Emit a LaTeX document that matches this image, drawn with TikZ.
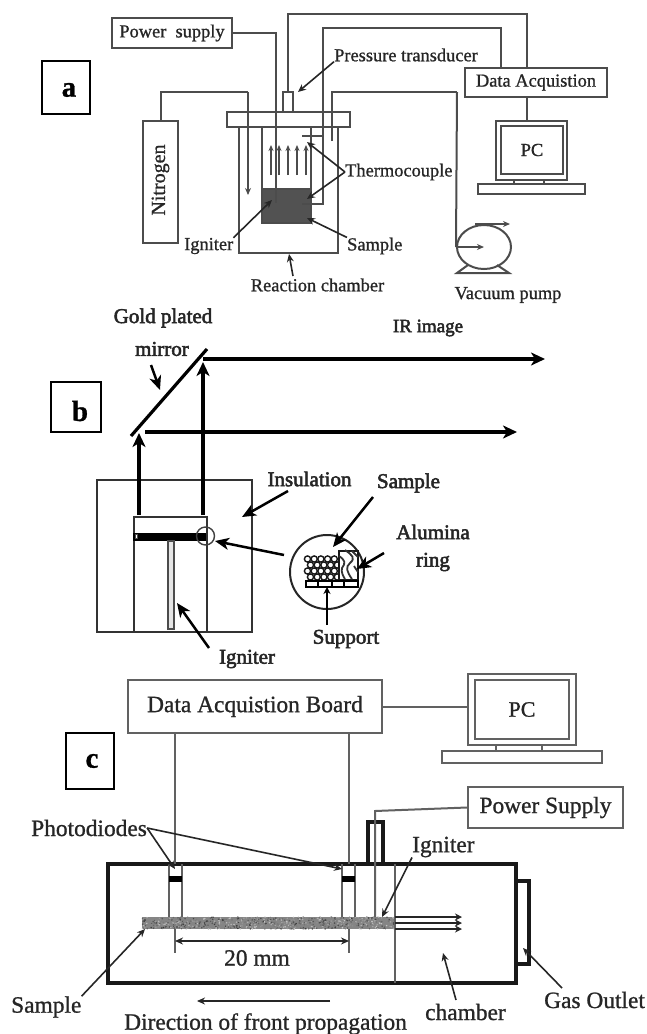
\documentclass[tikz,border=0pt]{standalone}
\usepackage{fontspec}
\setmainfont[FakeBold=1]{Liberation Serif}
\newfontfamily\fB[FakeBold=2.5]{Liberation Serif}
\usetikzlibrary{arrows.meta,calc,shapes.geometric}
\newcommand{\fsz}[1]{\fontsize{#1}{#1}\selectfont}
\definecolor{lineA}{gray}{0.3}
\definecolor{lineC}{gray}{0.38}
\tikzset{
  txtA/.style={inner sep=0pt,font=\fsz{18.4},text=black!85},
  txtB/.style={inner sep=0pt,font=\fB\fsz{21},text=black!85},
  txtC/.style={inner sep=0pt,font=\fsz{23.4},text=black!85},
  tag/.style={draw=black,line width=2pt,inner sep=0pt},
  tagtxt/.style={inner sep=0pt,font=\bfseries\fsz{29},text=black},
  boxA/.style={draw=lineA,line width=2pt,inner sep=0pt,fill=white},
  boxC/.style={draw=lineC,line width=2pt,inner sep=0pt,fill=white},
  wireA/.style={draw=lineA,line width=2pt},
  wireC/.style={draw=lineC,line width=2pt},
  ptrA/.style={draw=black!85,line width=1.6pt,-{Stealth[length=8pt,width=7pt]}},
  ptrB/.style={draw=black,line width=2.5pt,-{Stealth[length=14pt,width=12pt,inset=4pt]}},
  ptrC/.style={draw=black!85,line width=1.6pt,-{Stealth[length=8pt,width=7pt]}},
  beam/.style={draw=black,line width=3.1pt,-{Stealth[length=14pt,width=13pt,inset=4pt]}},
}
\begin{document}
\begin{tikzpicture}[x=1pt,y=-1pt]
\useasboundingbox (0,0) rectangle (647,1034);
% ---------- panel a ----------
\node[tag,minimum width=48,minimum height=53] (tagA) at (66,87.5) {};
\node[tagtxt] (tagAt) at (69,90) {a};
\node[boxA,minimum width=120,minimum height=30,txtA] (psA) at (172,33) {Power\ \ supply};
\node[boxA,minimum width=142,minimum height=29,txtA] (daqA) at (536,82.5) {Data Acquistion};
\node[boxA,minimum width=35,minimum height=122] (n2) at (160.5,182) {};
\node[inner sep=0pt,font=\fsz{20},text=black!85,rotate=90] (n2t) at (160.5,180) {Nitrogen};
% chamber and crucible
\draw[wireA] (239,127) -- (239,253) -- (338,253) -- (338,127);
\draw[wireA] (262,127) -- (262,189);
\draw[wireA] (311,127) -- (311,189);
\node[draw=lineA,line width=2pt,fill=black!68,inner sep=0pt,minimum width=49,minimum height=34] (sampA) at (286.5,206) {};
\foreach \x in {271,279,288,297,306}
  \draw[draw=lineA,line width=1.6pt,-{Stealth[length=6pt,width=5pt]}] (\x,175) -- (\x,145);
\coordinate (n2end) at (248,195);
\coordinate (n2top) at (248,92);
\coordinate (ignTop) at (276,203);
\coordinate (v1) at (527,14);
\coordinate (j1) at (527,68);
\coordinate (v2) at (323,28);
\coordinate (v2b) at (501,28);
\coordinate (j2) at (501,68);
\coordinate (tcL) at (302,204);
\coordinate (tcLc) at (323,204);
\coordinate (tcU) at (302,136);
\coordinate (tcUr) at (323,136);
\coordinate (vacS) at (332,141);
\coordinate (vacT) at (332,92);
\coordinate (vacC) at (457,92);
\node[boxA,minimum width=123,minimum height=15] (flange) at (288.5,119.5) {};
\node[boxA,minimum width=10,minimum height=20] (xd) at (288,102) {};
\draw[wireA] (n2.north) |- (n2top);
\draw[draw=lineA,line width=2pt,-{Stealth[length=7pt,width=6pt]}] (n2top) -- (n2end);
\draw[wireA] (psA.east) -| (ignTop);
\draw[wireA] (tcL) -- (tcLc) -- (v2) -- (v2b) -- (j2);
\draw[wireA] (tcU) -- (tcUr);
\draw[wireA] (xd.north) |- (v1) -- (j1);
\draw[wireA] (vacS) -- (vacT) -- (vacC);
% PC a
\node[boxA,minimum width=71,minimum height=59] (monA) at (531.5,150.5) {};
\node[boxA,minimum width=62,minimum height=48,txtA] (scrA) at (532,150) {PC};
\draw[wireA] (daqA.south -| j1) -- (monA.north -| j1);
\node[boxA,minimum width=107,minimum height=10] (kbA) at (531.5,189) {};
\draw[wireA] (514,180) -- (514,184);
\draw[wireA] (544,180) -- (544,184);
% pump
\node[draw=lineA,line width=2pt,ellipse,inner sep=0pt,minimum width=54,minimum height=44] (pump) at (484,247) {};
\draw[wireA] (vacC) -- (pump.west);
\draw[draw=lineA,line width=1.6pt,-{Stealth[length=7pt,width=6pt]}] (pump.west) -- (pump.center);
\draw[draw=lineA,line width=1.6pt,-{Stealth[length=7pt,width=6pt]}] (475,224) -- (510,224);
\draw[wireA] (468,265) -- (457,273) -- (509,273) -- (497,265);
% labels a
\node[txtA,anchor=west] (lPT) at (334,55) {Pressure transducer};
\coordinate (xdT) at (298,92);
\draw[ptrA] (lPT.south west) -- (xdT);
\node[txtA,anchor=west] (lTC) at (345,172) {Thermocouple};
\coordinate (tcA) at (307,142);
\coordinate (tcB) at (307,199);
\draw[ptrA] (lTC.west) -- (tcA);
\draw[ptrA] (lTC.west) -- (tcB);
\node[txtA,anchor=west] (lIgA) at (184,246) {Igniter};
\coordinate (igA) at (272,200);
\draw[ptrA] (lIgA.north east) -- (igA);
\node[txtA,anchor=west] (lSaA) at (347,246) {Sample};
\coordinate (saA) at (307,218);
\draw[ptrA] (lSaA.north west) -- (saA);
\node[txtA] (lRC) at (317.5,285) {Reaction chamber};
\coordinate (rcS) at (293,276);
\coordinate (rcA) at (289,254);
\draw[ptrA] (rcS) -- (rcA);
\node[txtA] (lVP) at (508,295) {Vacuum pump};
% ---------- panel b ----------
\node[tag,minimum width=50,minimum height=50] (tagB) at (76,407) {};
\node[tagtxt] (tagBt) at (80,411) {b};
\node[txtB] (lGold) at (163,318) {Gold plated};
\node[txtB] (lMir) at (162,349) {mirror};
\node[inner sep=0pt,font=\fB\fsz{19},text=black!85] (lIR) at (428,328) {IR image};
\coordinate (mirA) at (131,436);
\coordinate (mirB) at (207,349);
\draw[draw=black,line width=3.2pt] (mirA) -- (mirB);
\coordinate (mirP) at (160,390);
\draw[ptrB] (151,365) -- (mirP);
\coordinate (irT) at (545,359);
\coordinate (irB) at (517,432);
\draw[beam] (203,359) -- (irT);
\draw[beam] (145,432) -- (irB);
\draw[draw=black!80,line width=2pt] (97,480) rectangle (252,632);
\draw[draw=black!80,line width=2pt] (134,632) -- (134,517) -- (207,517) -- (207,632);
\draw[beam] (139,515) -- (139,433);
\draw[beam] (203,515) -- (203,362);
\node[draw=black,fill=black,inner sep=0pt,minimum width=72,minimum height=7] (bar) at (169,536.5) {};
\node[draw=black!70,fill=white,inner sep=0pt,minimum width=2,minimum height=4] (barEnd) at (136,536) {};
\node[draw=black!70,line width=1.6pt,fill=black!10,inner sep=0pt,minimum width=6,minimum height=88,anchor=north] (igB) at (171,540) {};
\node[draw=black!75,line width=1.4pt,circle,inner sep=0pt,minimum size=18] (cS) at (205.5,536) {};
\node[draw=black!85,line width=2pt,circle,inner sep=0pt,minimum size=74] (cL) at (327,572) {};
\coordinate (zoomS) at (284,555);
\coordinate (zoomT) at (215,541);
\draw[ptrB] (zoomS) -- (zoomT);
% packed sample
\foreach \yy/\sh in {559/0,565/3,571/0,577/3}
  \foreach \xx in {308.5,315.2,321.9,328.6,335.3}
    \draw[draw=black!90,line width=1.4pt,fill=white] (\xx+\sh-1,\yy) circle (3.1);
\node[draw=black!90,line width=2pt,fill=white,inner sep=0pt,minimum width=19,minimum height=29] (ring) at (348.5,565) {};
\draw[draw=black!80,line width=1.8pt] (345,550) .. controls (352,555) and (356,558) .. (350,563) .. controls (345,567) and (347,572) .. (352,579);
\draw[draw=black!80,line width=1.8pt] (339,556) .. controls (345,560) and (346,563) .. (342,568) .. controls (341,572) and (343,576) .. (345,579);
\draw[draw=black!80,line width=1.8pt] (352,551) -- (358,557);
\draw[draw=black!80,line width=1.8pt] (354,566) -- (358,572);
\node[draw=black,line width=2pt,fill=white,inner sep=0pt,minimum width=52,minimum height=6] (supp) at (332,584) {};
\foreach \x in {318,332,344} \draw[draw=black,line width=1.4pt] (\x,581) -- (\x,587);
% labels b
\node[txtB] (lIns) at (309.5,479) {Insulation};
\coordinate (insS) at (288,491);
\coordinate (insT) at (242,517);
\draw[ptrB] (insS) -- (insT);
\node[txtB] (lSaB) at (408.5,483) {Sample};
\coordinate (saS) at (373,497);
\coordinate (saT) at (333,547);
\draw[ptrB] (saS) -- (saT);
\node[txtB] (lAl) at (433,532) {Alumina};
\node[txtB] (lRg) at (433,562) {ring};
\coordinate (rgS) at (384,553);
\coordinate (rgT) at (357,569);
\draw[ptrB] (rgS) -- (rgT);
\node[txtB] (lSup) at (346,639) {Support};
\coordinate (spS) at (327,625);
\coordinate (spT) at (327,587);
\draw[draw=black,line width=1.6pt,-{Stealth[length=7pt,width=7pt]}] (spS) -- (spT);
\node[txtB] (lIgB) at (247,659) {Igniter};
\coordinate (igS) at (209,648);
\coordinate (igT) at (177,603);
\draw[ptrB] (igS) -- (igT);
% ---------- panel c ----------
\node[tag,minimum width=48,minimum height=56] (tagC) at (90,761) {};
\node[tagtxt] (tagCt) at (92,761) {c};
\node[boxC,minimum width=254,minimum height=53,txtC] (daqC) at (255,706.5) {Data Acquistion Board};
\node[boxC,minimum width=108,minimum height=71] (monC) at (522,709.5) {};
\node[boxC,minimum width=94,minimum height=59,txtC,font=\fsz{22}] (scrC) at (522,709.5) {PC};
\draw[wireC] (daqC.east) -- (monC.west |- daqC.east);
\node[boxC,minimum width=160,minimum height=12] (kbC) at (522,757) {};
\draw[wireC] (496,745) -- (496,751);
\draw[wireC] (542,745) -- (542,751);
\node[boxC,minimum width=155,minimum height=41,txtC] (psC) at (545.5,807.5) {Power Supply};
% sample strip
\node[fill=black!48,inner sep=0pt,minimum width=252,minimum height=12] (stripC) at (268,923) {};
\begin{scope}
\clip (stripC.north west) rectangle (stripC.south east);
\pgfmathsetseed{7}
\foreach \i in {1,...,700}{
  \pgfmathsetmacro{\rx}{142+252*rnd}
  \pgfmathsetmacro{\ry}{917+12*rnd}
  \pgfmathsetmacro{\rg}{int(20+60*rnd)}
  \fill[black!\rg] (\rx,\ry) circle (0.8);
}
\end{scope}
% chamber
\node[draw=black!90,line width=3.1pt,inner sep=0pt,minimum width=408,minimum height=119] (chC) at (312,923.5) {};
\draw[draw=black!90,line width=3.1pt] (516,881) -- (529,881) -- (529,964) -- (516,964);
\draw[draw=black!90,line width=3.1pt] (368,864) -- (368,822) -- (383,822) -- (383,864);
% photodiodes
\foreach \a/\b in {169/182,342/355}{
  \draw[wireC,line width=2pt] (\a,864) -- (\a,917);
  \draw[wireC,line width=2pt] (\b,864) -- (\b,917);
  \fill[black] (\a,876) rectangle (\b,882);
}
\coordinate (t1) at (175,864);
\coordinate (t2) at (349,864);
\coordinate (b1) at (175,929);
\coordinate (b2) at (349,929);
\coordinate (d1) at (175,953);
\coordinate (d2) at (349,953);
\draw[wireC] (daqC.south -| t1) -- (t1);
\draw[wireC] (daqC.south -| t2) -- (t2);
\draw[wireC] (b1) -- (d1);
\draw[wireC] (b2) -- (d2);
\coordinate (dimL) at (175,941);
\coordinate (dimR) at (349,941);
\draw[draw=black!85,line width=1.6pt,{Stealth[length=8pt,width=7pt]}-{Stealth[length=8pt,width=7pt]}] (dimL) -- (dimR);
\node[txtC] (l20) at (257,958) {20 mm};
% igniter c
\coordinate (ic1) at (375,811);
\coordinate (ic2) at (375,917);
\draw[wireC] (psC.west) -- (ic1) -- (ic2);
\draw[wireC] (395,864) -- (395,983);
\foreach \y in {917,923,929}{
  \draw[draw=black!85,line width=1.6pt,-{Stealth[length=7pt,width=7pt]}] (395,\y) -- (462,\y);
}
% labels c
\node[txtC,anchor=west] (lPh) at (31,828) {Photodiodes};
\coordinate (ph1) at (175,869);
\coordinate (ph2) at (342,869);
\draw[ptrC] (lPh.east) -- (ph1);
\draw[ptrC] (lPh.east) -- (ph2);
\node[txtC,anchor=west] (lSaC) at (11,1007) {Sample};
\coordinate (saC) at (145,929);
\draw[ptrC] (lSaC.north east) -- (saC);
\node[txtC,anchor=west] (lDir) at (124,1024) {Direction of front propagation};
\coordinate (dirR) at (330,1001);
\coordinate (dirL) at (197,1001);
\draw[ptrC] (dirR) -- (dirL);
\node[txtC,anchor=west] (lIgC) at (412,847) {Igniter};
\coordinate (igC) at (382,917);
\draw[ptrC] (lIgC.south west) -- (igC);
\node[txtC,anchor=west] (lCh) at (425,1012) {chamber};
\coordinate (chS) at (456,1000);
\coordinate (chT) at (443,953);
\draw[ptrC] (chS) -- (chT);
\node[txtC,anchor=west] (lGas) at (544,1000) {Gas Outlet};
\coordinate (gasS) at (562,988);
\coordinate (gasT) at (523,948);
\draw[ptrC] (gasS) -- (gasT);
\end{tikzpicture}
\end{document}
